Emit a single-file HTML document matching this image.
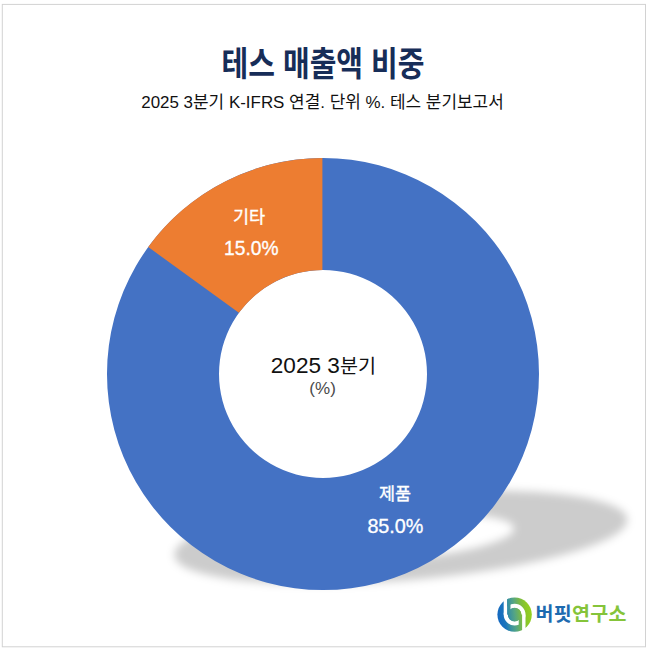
<!DOCTYPE html>
<html lang="ko">
<head>
<meta charset="utf-8">
<title>테스 매출액 비중</title>
<style>
html,body{margin:0;padding:0;background:#fff;}
body{width:650px;height:653px;overflow:hidden;position:relative;font-family:"Liberation Sans","Noto Sans CJK KR",sans-serif;}
svg{position:absolute;left:0;top:0;display:block;}
text{font-family:"Liberation Sans","Noto Sans CJK KR",sans-serif;}
</style>
</head>
<body>
<svg width="650" height="653" viewBox="0 0 650 653">
  <defs>
    <filter id="blur" x="-10%" y="-30%" width="120%" height="160%">
      <feGaussianBlur stdDeviation="4.5"/>
    </filter>
  </defs>
  <rect x="0" y="0" width="650" height="653" fill="#ffffff"/>
  <!-- frame -->
  <rect x="2.3" y="4.4" width="643.2" height="642.4" fill="none" stroke="#d2d2d2" stroke-width="1"/>

  <!-- title -->
  <text x="323" y="75.5" text-anchor="middle" font-size="34" font-weight="700" fill="#172d58" textLength="203" lengthAdjust="spacingAndGlyphs">테스 매출액 비중</text>
  <text x="322.5" y="108.3" text-anchor="middle" font-size="16.8" fill="#111111" textLength="362.5" lengthAdjust="spacingAndGlyphs">2025 3분기 K-IFRS 연결. 단위 %. 테스 분기보고서</text>

  <!-- perspective shadow -->
  <g filter="url(#blur)">
    <g transform="matrix(0.9723,0,-0.3928,0.2164,233.65,456.3)">
      <path fill="#000" fill-opacity="0.2" fill-rule="evenodd"
        d="M323,158 A216,216 0 1 1 322.99,158 Z M323,266 A108,108 0 1 0 323.01,266 Z"/>
    </g>
  </g>

  <!-- donut -->
  <g>
    <!-- blue 85% : full ring, orange slice painted on top -->
    <path fill="#4472c4" fill-rule="evenodd" d="M323,158 A216,216 0 1 1 322.99,158 Z M323,270 A104,104 0 1 0 323.01,270 Z"/>
    <!-- orange 15% -->
    <path fill="#ed7d31" d="M148.25,247.04 A216,216 0 0 1 322.4,158 L322.4,270 A104,104 0 0 0 238.86,312.87 Z"/>
  </g>

  <!-- labels -->
  <g stroke="#ffffff" stroke-width="0.35">
  <text x="249" y="223" text-anchor="middle" font-size="17.5" fill="#ffffff">기타</text>
  <text x="251.3" y="255" text-anchor="middle" font-size="21" fill="#ffffff" textLength="54.5" lengthAdjust="spacingAndGlyphs">15.0%</text>
  <text x="395" y="500" text-anchor="middle" font-size="17.5" fill="#ffffff">제품</text>
  <text x="395.4" y="533" text-anchor="middle" font-size="21" fill="#ffffff" textLength="56" lengthAdjust="spacingAndGlyphs">85.0%</text>

  </g>

  <!-- center -->
  <text x="270.8" y="373" font-size="22.6" fill="#111111">2025 3<tspan font-size="19.6" dy="-0.3">분기</tspan></text>
  <text x="322.6" y="394.3" text-anchor="middle" font-size="17" fill="#4a4a4a">(%)</text>

  <!-- logo -->
  <defs>
    <linearGradient id="lg" gradientUnits="userSpaceOnUse" x1="-17" y1="2" x2="17" y2="-2">
      <stop offset="0" stop-color="#1468c0"/>
      <stop offset="0.2" stop-color="#1b74bd"/>
      <stop offset="0.35" stop-color="#3a919f"/>
      <stop offset="0.5" stop-color="#54a585"/>
      <stop offset="0.68" stop-color="#78b848"/>
      <stop offset="0.85" stop-color="#8cc826"/>
      <stop offset="1" stop-color="#96d020"/>
    </linearGradient>
  </defs>
  <g transform="translate(514.6,614.6)">
    <circle cx="0" cy="0" r="17.2" fill="url(#lg)"/>
    <circle cx="0" cy="0" r="8.8" fill="none" stroke="#ffffff" stroke-width="4.2"/>
    <rect x="-10.9" y="-18" width="3.5" height="18" fill="#ffffff"/>
    <rect x="7.4" y="0" width="3.5" height="18" fill="#ffffff"/>
    <rect x="-7.5" y="-15.4" width="3.4" height="15.4" fill="url(#lg)"/>
    <rect x="4.1" y="0" width="3.4" height="15.4" fill="url(#lg)"/>
    <circle cx="0" cy="0" r="6.8" fill="url(#lg)"/>
  </g>
  <text x="535.4" y="620.6" font-size="19.5" font-weight="700" fill="#1d6bb0" textLength="91" lengthAdjust="spacing">버핏<tspan fill="#85c43a">연구소</tspan></text>
</svg>
</body>
</html>
